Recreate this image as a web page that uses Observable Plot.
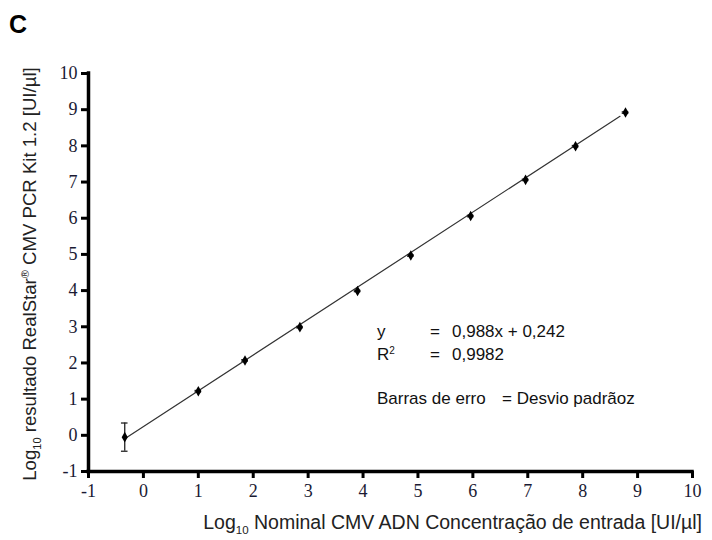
<!DOCTYPE html>
<html><head><meta charset="utf-8">
<script src="https://cdn.jsdelivr.net/npm/d3@7"></script>
<script src="https://cdn.jsdelivr.net/npm/@observablehq/plot@0.6"></script>
<style>body{margin:0;background:#fff} svg{display:block}</style>
</head><body><div id="chart"></div>
<script>
// ---- data ----
const nominal  = [-0.34, 1.00, 1.85, 2.85, 3.90, 4.87, 5.96, 6.96, 7.87, 8.78];
const measured = [-0.05, 1.22, 2.07, 2.99, 3.99, 4.97, 6.06, 7.06, 7.99, 8.92];
const errSD    = [0.39, 0.02, 0.02, 0.02, 0.02, 0.02, 0.02, 0.02, 0.02, 0.02];
const xTicks = [-1, 0, 1, 2, 3, 4, 5, 6, 7, 8, 9, 10];
const yTicks = [-1, 0, 1, 2, 3, 4, 5, 6, 7, 8, 9, 10];
const fitSlope = 0.988, fitIntercept = 0.242;
const fitRange = [-0.34, 8.68];

const points = nominal.map((x, i) => ({x, y: measured[i], sd: errSD[i]}));
const fitLine = fitRange.map(x => ({x, y: fitSlope * x + fitIntercept}));
const cap = 0.06;
const tickFont = "'Liberation Serif', 'Times New Roman', serif";

const plot = Plot.plot({
  width: 712, height: 540,
  marginLeft: 88, marginRight: 20, marginTop: 73, marginBottom: 69,
  x: {domain: [-1, 10]},
  y: {domain: [-1, 10]},
  style: {background: "#fff"},
  marks: [
    Plot.axisX({ticks: xTicks, tickSize: 7, tickPadding: 6, fontSize: 18, label: null}),
    Plot.axisY({ticks: yTicks, tickSize: 7, tickPadding: 4, fontSize: 18, label: null}),
    Plot.ruleY([-1], {stroke: "#000", strokeWidth: 3.5, strokeLinecap: "square"}),
    Plot.ruleX([-1], {stroke: "#000", strokeWidth: 3.5, strokeLinecap: "square"}),
    Plot.line(fitLine, {x: "x", y: "y", stroke: "#333", strokeWidth: 1.2}),
    Plot.ruleX(points, {x: "x", y1: d => d.y - d.sd, y2: d => d.y + d.sd, stroke: "#222", strokeWidth: 1.3}),
    Plot.ruleY(points, {y: d => d.y + d.sd, x1: d => d.x - cap, x2: d => d.x + cap, stroke: "#222", strokeWidth: 1.3}),
    Plot.ruleY(points, {y: d => d.y - d.sd, x1: d => d.x - cap, x2: d => d.x + cap, stroke: "#222", strokeWidth: 1.3}),
    Plot.dot(points, {x: "x", y: "y", symbol: "diamond", r: 3.2, fill: "#000", stroke: "none"})
  ]
});

// axis styling: thick black ticks, serif tick labels (inline styles on each element)
plot.querySelectorAll("g").forEach(g => {
  const lab = g.getAttribute("aria-label") || "";
  if (lab === "x-axis tick" || lab === "y-axis tick") {
    g.setAttribute("stroke-width", "3");
    g.style.strokeWidth = "3px";
    g.querySelectorAll("path, line").forEach(p => {
      p.style.stroke = "#000";
      p.style.strokeWidth = "3px";
    });
  }
  if (lab === "x-axis tick label" || lab === "y-axis tick label") {
    g.style.fontFamily = tickFont;
    g.style.fontSize = "18px";
    g.querySelectorAll("text").forEach(t => {
      t.style.fontFamily = tickFont;
      t.style.fontSize = "18px";
      t.style.fill = "#1a1a33";
      t.style.fontVariant = "normal";
      t.textContent = t.textContent.replace("\u2212", "-");
    });
  }
});

const svg = d3.select(plot);
const sans = "'Liberation Sans', Arial, sans-serif";

// panel letter
svg.append("text").attr("x", 9).attr("y", 33).attr("text-anchor", "start").attr("font-family", sans)
  .attr("font-size", 25).attr("font-weight", "bold").attr("fill", "#000").text("C");

// y axis label
const yl = svg.append("text").attr("transform", "translate(36,274) rotate(-90)")
  .attr("text-anchor", "middle").attr("font-family", sans).attr("font-size", 18.6).attr("fill", "#222");
yl.append("tspan").text("Log");
yl.append("tspan").attr("font-size", 11).attr("dy", 5).text("10");
yl.append("tspan").attr("dy", -5).text(" resultado RealStar");
yl.append("tspan").attr("font-size", 11).attr("dy", -7).text("®");
yl.append("tspan").attr("dy", 7).text(" CMV PCR Kit 1.2 [UI/µl]");

// x axis label
const xl = svg.append("text").attr("x", 702).attr("y", 529).attr("text-anchor", "end")
  .attr("font-family", sans).attr("font-size", 19.5).attr("fill", "#222");
xl.append("tspan").text("Log");
xl.append("tspan").attr("font-size", 11.5).attr("dy", 5).text("10");
xl.append("tspan").attr("dy", -5).text(" Nominal CMV ADN Concentração de entrada [UI/µl]");

// annotations
const ann = svg.append("g").attr("font-family", sans).attr("font-size", 17)
  .attr("fill", "#111").attr("text-anchor", "start");
ann.append("text").attr("x", 377).attr("y", 337).text("y");
ann.append("text").attr("x", 430).attr("y", 337).text("=");
ann.append("text").attr("x", 452).attr("y", 337).text("0,988x + 0,242");
const r2 = ann.append("text").attr("x", 377).attr("y", 360);
r2.append("tspan").text("R");
r2.append("tspan").attr("font-size", 10).attr("dy", -6).text("2");
ann.append("text").attr("x", 430).attr("y", 360).text("=");
ann.append("text").attr("x", 452).attr("y", 360).text("0,9982");
ann.append("text").attr("x", 377).attr("y", 404).text("Barras de erro");
ann.append("text").attr("x", 502).attr("y", 404).text("= Desvio padrãoz");

document.getElementById("chart").appendChild(plot);
</script>
</body></html>
